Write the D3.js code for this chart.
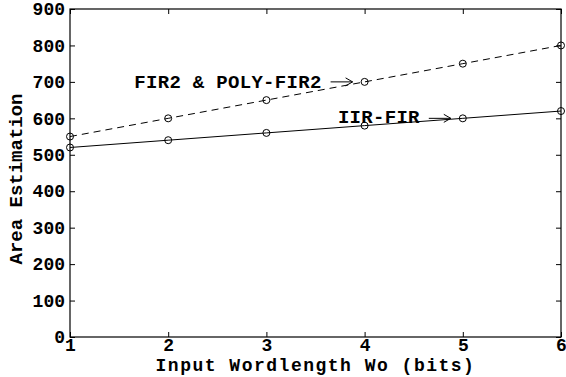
<!DOCTYPE html>
<html>
<head>
<meta charset="utf-8">
<script src="https://cdn.jsdelivr.net/npm/d3@7"></script>
<style>
    body { margin: 0; background: #fff; }
    text { font-family: "Liberation Mono", "Courier New", monospace; font-weight: bold; fill: #000; }
    .tick text { font-size: 18px; }
    .tick line { stroke: #000; }
    .domain { display: none; }
</style>
</head>
<body>
<div id="chart"></div>
<script>
var wordLengths = [1, 2, 3, 4, 5, 6];
var firPolyArea = [550, 600, 650, 700, 750, 800];
var iirFirArea = [520, 540, 560, 580, 600, 620];
var xTicks = [1, 2, 3, 4, 5, 6];
var yTicks = [0, 100, 200, 300, 400, 500, 600, 700, 800, 900];

(function drawChart() {
    var width = 566, height = 377;
    var left = 70, right = 561, top = 9, bottom = 337;

    var svg = d3.select('#chart')
        .append('svg')
        .attr('width', width)
        .attr('height', height);

    var x = d3.scaleLinear().domain([1, 6]).range([left, right]);
    var y = d3.scaleLinear().domain([0, 900]).range([bottom, top]);

    // ticks point inward like matlab
    svg.append('g')
        .attr('transform', 'translate(0,' + bottom + ')')
        .call(d3.axisBottom(x).tickValues(xTicks).tickFormat(d3.format('d'))
            .tickSizeInner(-5).tickSizeOuter(0).tickPadding(1));
    svg.append('g')
        .attr('transform', 'translate(0,' + top + ')')
        .call(d3.axisTop(x).tickValues(xTicks).tickSizeInner(-5).tickSizeOuter(0).tickFormat(''));
    svg.append('g')
        .attr('transform', 'translate(' + left + ',0)')
        .call(d3.axisLeft(y).tickValues(yTicks).tickFormat(d3.format('d'))
            .tickSizeInner(-5).tickSizeOuter(0).tickPadding(5));
    svg.append('g')
        .attr('transform', 'translate(' + right + ',0)')
        .call(d3.axisRight(y).tickValues(yTicks).tickSizeInner(-5).tickSizeOuter(0).tickFormat(''));

    svg.append('rect')
        .attr('x', left)
        .attr('y', top)
        .attr('width', right - left)
        .attr('height', bottom - top)
        .attr('fill', 'none')
        .attr('stroke', '#000')
        .attr('stroke-width', 1.2);

    var line = d3.line()
        .x(function(d, i) { return x(wordLengths[i]); })
        .y(function(d) { return y(d); });

    var series = [
        { values: firPolyArea, dash: '7,5' },
        { values: iirFirArea, dash: null }
    ];

    series.forEach(function(s) {
        svg.append('path')
            .datum(s.values)
            .attr('d', line)
            .attr('fill', 'none')
            .attr('stroke', '#000')
            .attr('stroke-width', 1)
            .attr('stroke-dasharray', s.dash);

        svg.selectAll(null)
            .data(s.values)
            .enter()
            .append('circle')
            .attr('cx', function(d, i) { return x(wordLengths[i]); })
            .attr('cy', function(d) { return y(d); })
            .attr('r', 3.5)
            .attr('fill', 'none')
            .attr('stroke', '#000')
            .attr('stroke-width', 1);
    });

    // text + arrow pointing at a data point
    function annotate(label, xv, yv, textDy) {
        var tipX = x(xv) - 12, tipY = y(yv);
        svg.append('text')
            .text(label)
            .attr('x', tipX - 31)
            .attr('y', tipY + textDy)
            .attr('text-anchor', 'end')
            .style('font-size', '19px')
            .style('letter-spacing', '0.3px');
        svg.append('path')
            .attr('d', 'M' + (tipX - 22) + ',' + tipY + 'H' + tipX +
                'M' + (tipX - 7) + ',' + (tipY - 4) + 'L' + tipX + ',' + tipY + 'L' + (tipX - 7) + ',' + (tipY + 4))
            .attr('fill', 'none')
            .attr('stroke', '#000')
            .attr('stroke-width', 1);
    }

    annotate('FIR2 & POLY-FIR2', wordLengths[3], firPolyArea[3], 6);
    annotate('IIR-FIR', wordLengths[4], iirFirArea[4], 5);

    svg.append('text')
        .text('Input Wordlength Wo (bits)')
        .attr('x', (left + right) / 2)
        .attr('y', 371)
        .attr('text-anchor', 'middle')
        .style('font-size', '18px')
        .style('letter-spacing', '1.5px');

    svg.append('text')
        .text('Area Estimation')
        .attr('transform', 'translate(22,' + ((top + bottom) / 2 + 6) + ') rotate(-90)')
        .attr('text-anchor', 'middle')
        .style('font-size', '19px');
})();
</script>
</body>
</html>
